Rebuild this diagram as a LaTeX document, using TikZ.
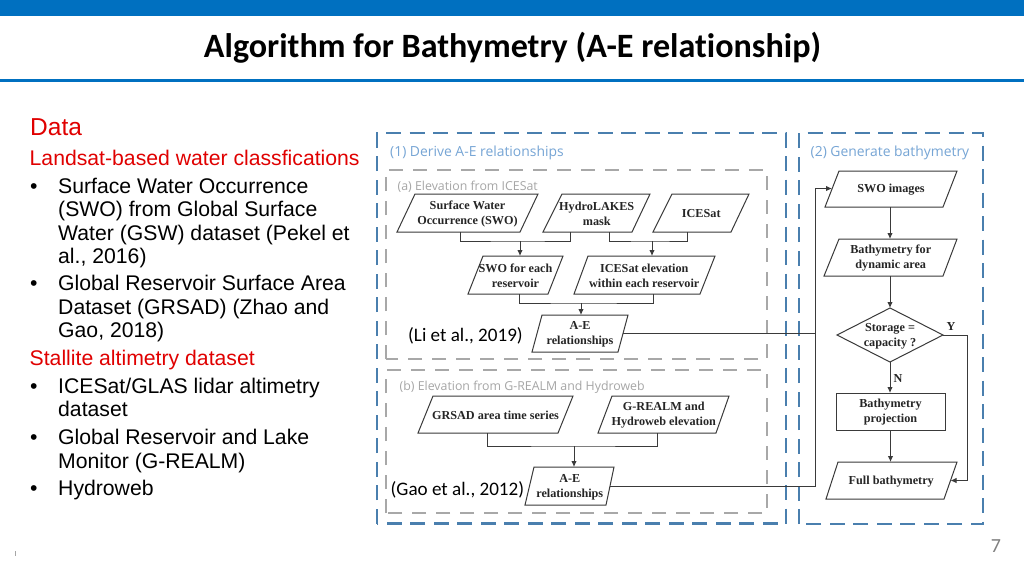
\documentclass[tikz,border=0pt]{standalone}
\usepackage{fontspec}
\setmainfont{Liberation Sans}
\newfontfamily\boxfont{Liberation Serif}
\newfontfamily\carl[Ligatures=NoCommon]{Carlito}
\newfontfamily\lab{Open Sans}
\usetikzlibrary{arrows.meta,shapes.geometric}
\definecolor{barblue}{HTML}{0070C0}
\definecolor{dashblue}{HTML}{4A7FAE}
\definecolor{dashgray}{HTML}{A8A8A8}
\definecolor{labblue}{HTML}{76A5D5}
\definecolor{labgray}{HTML}{A6A6A6}
\definecolor{redtxt}{HTML}{E00000}
\definecolor{flow}{HTML}{3A3A3A}
\tikzset{
  outerdash/.style={draw=dashblue,line width=2.2pt,dash pattern=on 15pt off 8.5pt},
  innerdash/.style={draw=dashgray,line width=1.6pt,dash pattern=on 14pt off 10pt},
  shapeline/.style={draw=flow,line width=1pt,line join=miter},
  boxtext/.style={font=\boxfont\bfseries\fontsize{12.2}{15}\selectfont,align=center,inner sep=0pt,outer sep=0pt,text=black!85},
  link/.style={draw=flow,line width=1pt},
  arrowlink/.style={link,-{Latex[length=6pt,width=5.5pt]}},
  body/.style={font=\fontsize{21.2}{24}\selectfont,anchor=base west,inner sep=0pt,text=black},
  redbody/.style={body,text=redtxt},
  bluelabel/.style={font=\lab\fontsize{13.9}{15}\selectfont,text=labblue,anchor=base west,inner sep=0pt},
  graylabel/.style={font=\lab\fontsize{12.35}{14}\selectfont,text=labgray,anchor=base west,inner sep=0pt},
  cite/.style={font=\carl\fontsize{19.1}{20}\selectfont,anchor=base west,inner sep=0pt,text=black},
}
% name, xTL, xTR, xBR, xBL, ytop, ybot, text
\newcommand{\para}[8]{%
  \draw[shapeline] (#2,#6) -- (#3,#6) -- (#4,#7) -- (#5,#7) -- cycle;
  \pgfmathsetmacro{\pl}{(#2+#5)/2}\pgfmathsetmacro{\pr}{(#3+#4)/2}%
  \pgfmathsetmacro{\pw}{\pr-\pl}\pgfmathsetmacro{\ph}{#7-#6}\pgfmathsetmacro{\pc}{(\pl+\pr)/2}\pgfmathsetmacro{\pm}{(#6+#7)/2}%
  \node[inner sep=0pt,outer sep=0pt,minimum width=\pw pt,minimum height=\ph pt] (#1) at (\pc,\pm) {};
  \node[boxtext,yshift=-1pt] (#1t) at (#1) {#8};
}
\begin{document}
\begin{tikzpicture}[x=1pt,y=-1pt]
\useasboundingbox (0,0) rectangle (1024,576);
\fill[white] (0,0) rectangle (1024,576);
\fill[barblue] (0,0) rectangle (1024,15.5);
\fill[barblue] (0,78.5) rectangle (1024,82);
\node[font=\carl\bfseries\fontsize{34.1}{36}\selectfont,anchor=base,inner sep=0pt,text=black] (title) at (512.5,57) {Algorithm for Bathymetry (A-E relationship)};
\node[font=\carl\fontsize{20}{24}\selectfont,text=black!50,anchor=base,inner sep=0pt] (pageno) at (996,552) {7};

% left text
\node[body,font=\fontsize{24.5}{26}\selectfont,text=redtxt] (t0) at (30,135.5) {Data};
\node[redbody] (t1) at (29.5,165.5) {Landsat-based water classfications};
\node[body] (b1) at (30,193) {•};
\node[body] (t2) at (58,193) {Surface Water Occurrence};
\node[body] (t3) at (58,216.5) {(SWO) from Global Surface};
\node[body] (t4) at (58,240) {Water (GSW) dataset (Pekel et};
\node[body] (t5) at (58,263.5) {al., 2016)};
\node[body] (b2) at (30,290.5) {•};
\node[body] (t6) at (58,290.5) {Global Reservoir Surface Area};
\node[body] (t7) at (58,314) {Dataset (GRSAD) (Zhao and};
\node[body] (t8) at (58,337.5) {Gao, 2018)};
\node[redbody] (t9) at (29.5,365) {Stallite altimetry dataset};
\node[body] (b3) at (30,393.5) {•};
\node[body] (t10) at (58,393.5) {ICESat/GLAS lidar altimetry};
\node[body] (t11) at (58,416.5) {dataset};
\node[body] (b4) at (30,444.5) {•};
\node[body] (t12) at (58,444.5) {Global Reservoir and Lake};
\node[body] (t13) at (58,468) {Monitor (G-REALM)};
\node[body] (b5) at (30,495.5) {•};
\node[body] (t14) at (58,495.5) {Hydroweb};

% dashed frames
\draw[outerdash] (377,523.5) -- (377,133) -- (786,133) -- (786,523.5) -- cycle;
\draw[outerdash] (799,524) -- (799,133) -- (983,133) -- (983,524) -- cycle;
\draw[innerdash] (386,359) -- (386,170) -- (767,170) -- (767,359) -- cycle;
\draw[innerdash] (386,513) -- (386,370) -- (767,370) -- (767,513) -- cycle;

% frame labels
\node[bluelabel] (l1) at (390,156) {(1) Derive A-E relationships};
\node[bluelabel] (l2) at (810.5,156) {(2) Generate bathymetry};
\node[graylabel] (la) at (397.5,190) {(a) Elevation from ICESat};
\node[graylabel] (lb) at (399.5,390) {(b) Elevation from G-REALM and Hydroweb};
\node[cite] (c1) at (408,341.5) {(Li et al., 2019)};
\node[cite] (c2) at (390.5,495.5) {(Gao et al., 2012)};

% shapes of part (a)
\para{srf}{415}{538}{520}{397}{194}{232}{Surface Water\\Occurrence (SWO)}
\para{hyd}{562}{650}{632}{543}{194}{232}{HydroLAKES\\mask}
\para{ice}{672}{749}{731}{653}{194}{232}{ICESat}
\para{swe}{483}{563}{548}{468}{256}{294}{SWO for each\\reservoir}
\para{iel}{588}{715}{700}{574}{256}{294}{ICESat elevation\\within each reservoir}
\para{aea}{542}{628}{618}{532}{315}{352}{A-E\\relationships}
% part (b)
\para{grs}{433}{573}{558}{418}{396}{433}{GRSAD area time series}
\para{grm}{612}{729}{716}{598}{396}{433}{G-REALM and\\Hydroweb elevation}
\para{aeb}{534}{614}{606}{525}{467}{505}{A-E\\relationships}
% part (2)
\para{swi}{839}{957}{943}{825}{171}{207}{SWO images}
\para{bdy}{839}{957}{943}{824}{239}{276}{Bathymetry for\\dynamic area}
\node[diamond,aspect=2,shapeline,inner sep=0pt,outer sep=0pt,minimum width=106pt,minimum height=54pt] (sto) at (890,335) {};
\node[boxtext,yshift=-1pt] (stot) at (890,335) {Storage =\\capacity ?};
\node[shapeline,inner sep=0pt,outer sep=0pt,minimum width=109pt,minimum height=37pt] (prj) at (890.5,411.5) {};
\node[boxtext,yshift=-1pt] (prjt) at (prj) {Bathymetry\\projection};
\para{ful}{838}{957}{944}{826}{462}{499}{Full bathymetry}
\node[boxtext] (ylab) at (951,326) {Y};
\node[boxtext] (nlab) at (898,378) {N};

% junction coordinates
\coordinate (ja) at (520,241);
\coordinate (jb) at (652,241);
\coordinate (jc) at (581,303);
\coordinate (jd) at (574,446);
\coordinate (je) at (815,188.5);
\coordinate (jy) at (967,335);
% connectors (a)
\draw[link] (srf.south -| 460,0) |- (ja) -| (hyd.south -| 570,0);
\draw[arrowlink] (ja) -- (swe.north -| ja);
\draw[link] (hyd.south -| 609,0) |- (jb) -| (ice.south -| 687,0);
\draw[arrowlink] (jb) -- (iel.north -| jb);
\draw[link] (swe.south -| 519,0) |- (jc) -| (iel.south -| 653,0);
\draw[arrowlink] (jc) -- (aea.north -| jc);
% connectors (b)
\draw[link] (grs.south -| 487,0) |- (jd) -| (grm.south -| 657,0);
\draw[arrowlink] (jd) -- (aeb.north -| jd);
% to part 2
\draw[link] (aea.east) -- (aea.east -| je);
\draw[link] (aeb.east) -| (je);
\draw[arrowlink] (je) -- (swi.west |- je);
% part 2 flow
\draw[arrowlink] (swi.south -| 890,0) -- (bdy.north -| 890,0);
\draw[arrowlink] (bdy.south -| 890,0) -- (sto.north);
\draw[arrowlink] (sto.south) -- (prj.north -| sto.south);
\draw[arrowlink] (prj.south) -- (ful.north -| prj.south);
\draw[link] (sto.east) -- (jy);
\draw[arrowlink] (jy) |- (ful.east);
% faint tick
\draw[black!35,line width=0.5pt] (15,551) -- (15,555.5);
\end{tikzpicture}
\end{document}
